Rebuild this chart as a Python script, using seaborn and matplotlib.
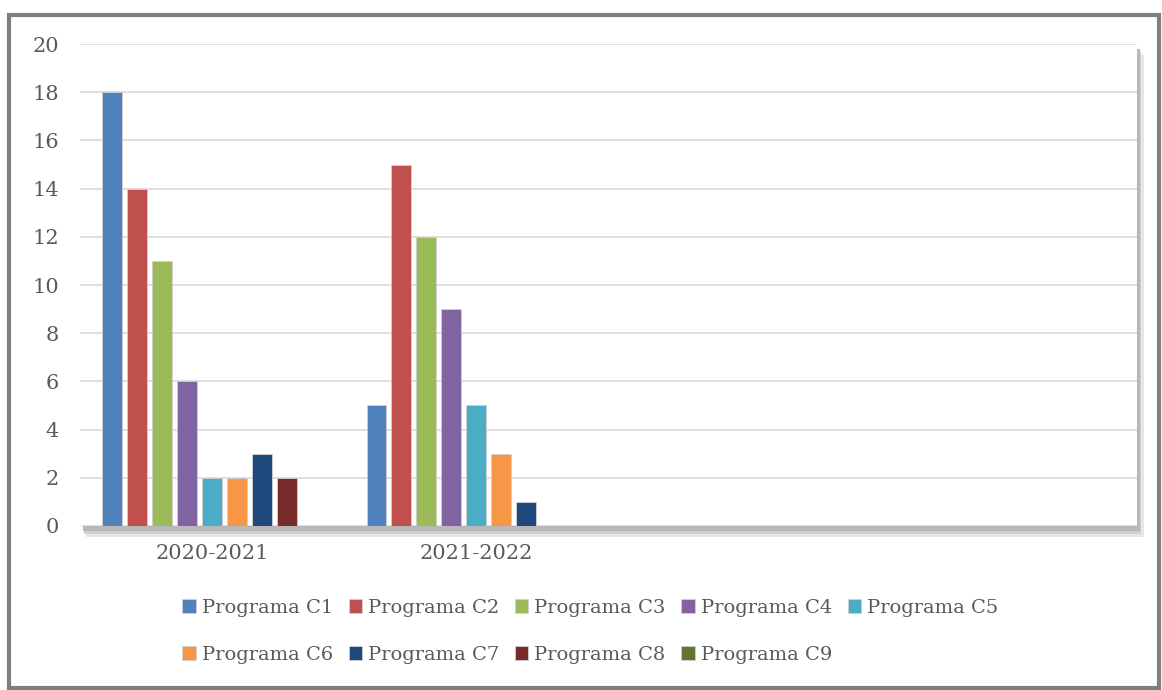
import pandas as pd
import matplotlib.pyplot as plt
import seaborn as sns
from matplotlib.patches import Rectangle

years = ["2020-2021", "2021-2022"]
programs = ["Programa C1", "Programa C2", "Programa C3", "Programa C4", "Programa C5",
            "Programa C6", "Programa C7", "Programa C8", "Programa C9"]
values_2020 = [18, 14, 11, 6, 2, 2, 3, 2, 0]
values_2021 = [5, 15, 12, 9, 5, 3, 1, 0, 0]
colors = ["#4F81BD", "#C0504D", "#9BBB59", "#8064A2", "#4BACC6",
          "#F79646", "#1F497D", "#772C2A", "#5F7530"]

rows = []
for p, v in zip(programs, values_2020):
    rows.append({"Year": years[0], "Program": p, "Value": v})
for p, v in zip(programs, values_2021):
    rows.append({"Year": years[1], "Program": p, "Value": v})
df = pd.DataFrame(rows)

sns.set_style("white")
plt.rcParams["font.family"] = ["DejaVu Serif"]
text_color = "#595959"

fig = plt.figure(figsize=(11.62, 6.9), dpi=100)
ax = fig.add_axes([0.0688, 0.2377, 0.9097, 0.6985])
ax.set_zorder(2)
ax.set_facecolor("white")

# soft shadow behind the plot area
for off, col in [(0.016, "#E6E6E6"), (0.011, "#D0D0D0"), (0.007, "#B8B8B8")]:
    fig.patches.append(Rectangle((0.0688 + off * 0.35, 0.2377 - off), 0.9097, 0.6985,
                                 transform=fig.transFigure, facecolor=col,
                                 edgecolor="none", zorder=1))
# outer frame
fig.patches.append(Rectangle((0.008, 0.003), 0.989, 0.975, transform=fig.transFigure,
                             facecolor="none", edgecolor="#7F7F7F", linewidth=3, zorder=5))

sns.barplot(data=df, x="Year", y="Value", hue="Program", order=years, hue_order=programs,
            palette=colors, width=0.85, gap=0.2, edgecolor="#D0D0D0", linewidth=0.6,
            saturation=1, ax=ax)

ax.set_xlim(-0.5, 3.5)
ax.set_ylim(0, 20)
ax.set_yticks(range(0, 21, 2))
ax.set_xlabel("")
ax.set_ylabel("")
ax.yaxis.grid(True, color="#D9D9D9", linewidth=1.2)
ax.set_axisbelow(True)
for s in ax.spines.values():
    s.set_visible(False)
ax.tick_params(axis="y", length=0, pad=15, labelsize=15, labelcolor=text_color)
ax.tick_params(axis="x", length=0, pad=13, labelsize=15, labelcolor=text_color)

handles, labels = ax.get_legend_handles_labels()
ax.get_legend().remove()
order = [0, 5, 1, 6, 2, 7, 3, 8, 4]
fig.legend([handles[i] for i in order], [labels[i] for i in order],
           loc="center", bbox_to_anchor=(0.508, 0.085), ncol=5, frameon=False,
           fontsize=14, labelcolor=text_color, handlelength=0.7, handleheight=0.7,
           handletextpad=0.3, columnspacing=0.8, labelspacing=1.5)

fig.savefig("out.png", dpi=100, facecolor="white")
